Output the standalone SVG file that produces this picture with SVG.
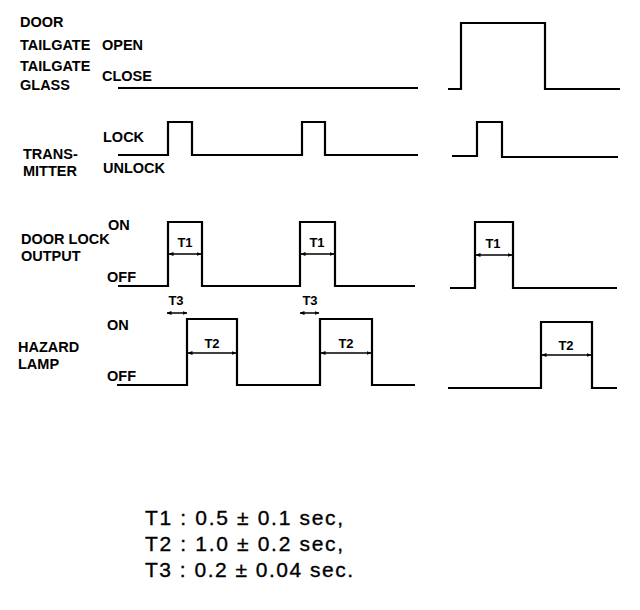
<svg xmlns="http://www.w3.org/2000/svg" width="640" height="610" viewBox="0 0 640 610">
<style>
.lbl{font-family:"Liberation Sans",Arial,sans-serif;font-weight:bold;font-size:14.5px;fill:#000}
.t{font-family:"Liberation Sans",Arial,sans-serif;font-weight:bold;font-size:13px;fill:#000;text-anchor:middle}
.leg{font-family:"Liberation Sans",Arial,sans-serif;font-size:21px;fill:#000;stroke:#000;stroke-width:0.35}
.w{fill:none;stroke:#000;stroke-width:2.2;stroke-linejoin:miter}
.d{fill:none;stroke:#000;stroke-width:1.5;marker-start:url(#a);marker-end:url(#a)}
</style>
<defs>
<marker id="a" viewBox="0 0 10 10" refX="9" refY="5" markerWidth="5" markerHeight="5" orient="auto-start-reverse" markerUnits="userSpaceOnUse">
<path d="M0,1 L10,5 L0,9 Z" fill="#000"/>
</marker>
</defs>
<rect width="640" height="610" fill="#fff"/>
<g id="labels">
<text class="lbl" x="20" y="27">DOOR</text>
<text class="lbl" x="20" y="50">TAILGATE</text>
<text class="lbl" x="102" y="50">OPEN</text>
<text class="lbl" x="20" y="71">TAILGATE</text>
<text class="lbl" x="102" y="81">CLOSE</text>
<text class="lbl" x="20" y="90">GLASS</text>
<text class="lbl" x="103" y="142">LOCK</text>
<text class="lbl" x="23" y="159">TRANS-</text>
<text class="lbl" x="23" y="176">MITTER</text>
<text class="lbl" x="103" y="173">UNLOCK</text>
<text class="lbl" x="21" y="244">DOOR LOCK</text>
<text class="lbl" x="108" y="230">ON</text>
<text class="lbl" x="21" y="261">OUTPUT</text>
<text class="lbl" x="107" y="282">OFF</text>
<text class="lbl" x="107" y="330">ON</text>
<text class="lbl" x="18" y="352">HAZARD</text>
<text class="lbl" x="18" y="369">LAMP</text>
<text class="lbl" x="107" y="381">OFF</text>
</g>
<g id="connectors">
<path class="w" d="M118,88 H418"/>
<path class="w" d="M448,89 H461 V23 H545 V89 H620"/>
<path class="w" d="M118,155 H168 V122 H192 V155 H302 V122 H325 V155 H418"/>
<path class="w" d="M452,156 H477 V122 H502 V157 H618"/>
<path class="w" d="M118,286 H168 V222 H202 V286 H300 V222 H335 V286 H415"/>
<path class="w" d="M450,288 H475 V222 H513 V288 H617"/>
<path class="w" d="M117,385 H187 V319 H237 V385 H320 V319 H372 V385 H415"/>
<path class="w" d="M448,388 H541 V322 H592 V388 H617"/>
<path class="d" d="M169,254 H201"/>
<path class="d" d="M301,254 H334"/>
<path class="d" d="M476,255 H512"/>
<path class="d" d="M188,353 H236"/>
<path class="d" d="M321,353 H371"/>
<path class="d" d="M542,355 H591"/>
<path class="d" d="M167,313 H187"/>
<path class="d" d="M300,313 H319"/>
</g>
<g id="timing-labels">
<text class="t" x="185" y="247">T1</text>
<text class="t" x="317" y="247">T1</text>
<text class="t" x="493" y="248">T1</text>
<text class="t" x="212" y="348">T2</text>
<text class="t" x="346" y="348">T2</text>
<text class="t" x="566" y="350">T2</text>
<text class="t" x="176" y="305">T3</text>
<text class="t" x="310" y="305">T3</text>
</g>
<g id="legend">
<text class="leg" x="145" y="525" textLength="198" lengthAdjust="spacing">T1 : 0.5 ± 0.1 sec,</text>
<text class="leg" x="145" y="551" textLength="198" lengthAdjust="spacing">T2 : 1.0 ± 0.2 sec,</text>
<text class="leg" x="145" y="577" textLength="208" lengthAdjust="spacing">T3 : 0.2 ± 0.04 sec.</text>
</g>
</svg>
